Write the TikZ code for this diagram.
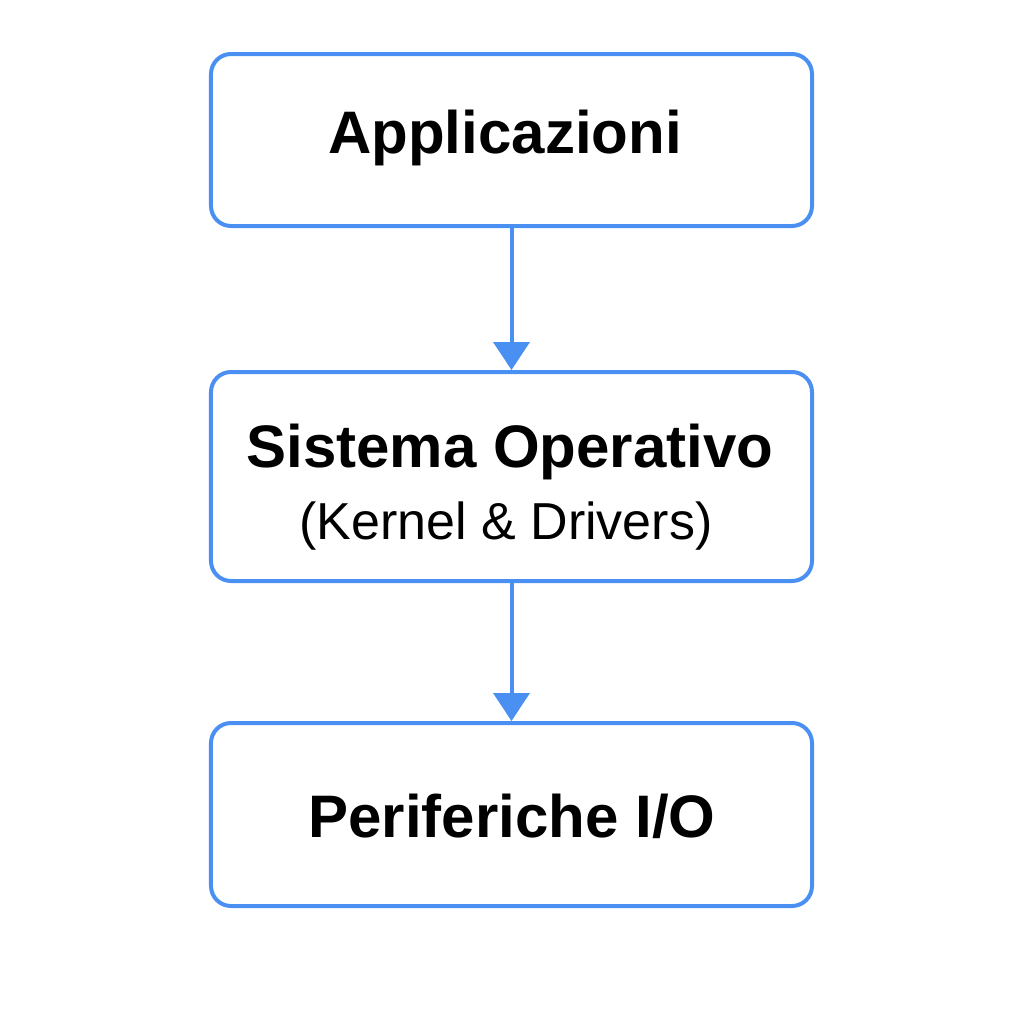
\documentclass[tikz,border=0pt]{standalone}
\usepackage{fontspec}
\setmainfont{Liberation Sans}
\usetikzlibrary{arrows.meta}
\definecolor{osblue}{RGB}{74,144,242}

\begin{document}
\begin{tikzpicture}[x=1bp,y=-1bp,
  box/.style={draw=osblue, line width=4bp, rounded corners=20bp, minimum width=601bp},
  title/.style={font=\fontsize{60bp}{72bp}\selectfont\bfseries, anchor=base, inner sep=0pt},
  subtitle/.style={font=\fontsize{52bp}{62bp}\selectfont, anchor=base, inner sep=0pt},
  link/.style={draw=osblue, line width=4bp, -{Triangle[width=36bp,length=28bp]}}]
\useasboundingbox (0,0) rectangle (1024,1024);
% Boxes
\node[box, minimum height=172bp] (apps) at (511.5,140) {};
\node[box, minimum height=209bp] (os) at (511.5,476.5) {};
\node[box, minimum height=183bp] (io) at (511.5,814.5) {};

% Labels
\node[title] (appsname) at (505,153) {Applicazioni};
\node[title] (osname) at (510,467) {Sistema Operativo};
\node[subtitle] (osnote) at (506,539) {(Kernel \& Drivers)};
\node[title] (ioname) at (512,837) {Periferiche I/O};

% Arrows
\draw[link] (apps.south) -- (os.north);
\draw[link] (os.south) -- (io.north);
\end{tikzpicture}
\end{document}
